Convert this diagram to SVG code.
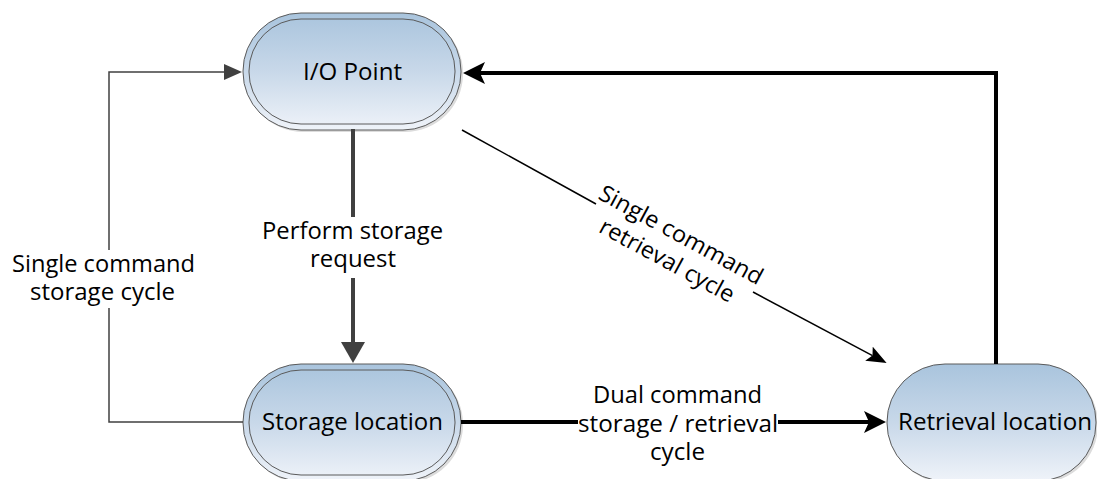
<svg xmlns="http://www.w3.org/2000/svg" width="1097" height="479" viewBox="0 0 1097 479">
<style>
  .lbl{font-family:"Open Sans","Liberation Sans",sans-serif;font-size:23px;fill:#000;text-anchor:middle}
  .node{fill:url(#g);stroke:#5a5a5a;stroke-width:1}
  .inner{fill:none;stroke:#5a5a5a;stroke-width:1}
  .shadow{fill:#dcdcdc}
  .thin{fill:none;stroke:#404040;stroke-width:1.5}
  .gray{fill:none;stroke:#404040;stroke-width:4}
  .thick{fill:none;stroke:#000;stroke-width:4}
  .diag{fill:none;stroke:#000;stroke-width:1.5}
</style>
<defs>
  <linearGradient id="g" x1="0" y1="0" x2="0" y2="1">
    <stop offset="0" stop-color="#a9c4dd"/>
    <stop offset="0.5" stop-color="#c8d8e9"/>
    <stop offset="1" stop-color="#eff3f9"/>
  </linearGradient>
  <marker id="aThick" markerUnits="userSpaceOnUse" markerWidth="22" markerHeight="22" viewBox="0 0 22 22" refX="5" refY="11" orient="auto">
    <path d="M0,0 L22,11 L0,22 L5,11 Z" fill="#000"/>
  </marker>
  <marker id="aGray" markerUnits="userSpaceOnUse" markerWidth="21" markerHeight="24" viewBox="0 0 21 24" refX="0" refY="12" orient="auto">
    <path d="M0,0 L21,12 L0,24 Z" fill="#404040"/>
  </marker>
  <marker id="aThin" markerUnits="userSpaceOnUse" markerWidth="18" markerHeight="16" viewBox="0 0 18 16" refX="0" refY="8" orient="auto">
    <path d="M0,0 L18,8 L0,16 Z" fill="#404040"/>
  </marker>
  <marker id="aDiag" markerUnits="userSpaceOnUse" markerWidth="20" markerHeight="16" viewBox="0 0 20 16" refX="4" refY="8" orient="auto">
    <path d="M0,0 L20,8 L0,16 L4,8 Z" fill="#000"/>
  </marker>
</defs>

<g id="node-io">
  <rect class="shadow" x="245" y="15" width="218" height="117" rx="58" ry="58"/>
  <rect class="node" x="243" y="13" width="218" height="117" rx="58" ry="58"/>
  <rect class="inner" x="249" y="19" width="206" height="105" rx="52" ry="52"/>
  <text class="lbl" x="352.5" y="80" textLength="99" lengthAdjust="spacingAndGlyphs">I/O Point</text>
</g>

<g id="node-storage">
  <rect class="shadow" x="245" y="366" width="218" height="117" rx="58" ry="58"/>
  <rect class="node" x="243" y="364" width="218" height="117" rx="58" ry="58"/>
  <rect class="inner" x="249" y="370" width="206" height="105" rx="52" ry="52"/>
  <text class="lbl" x="352.5" y="430" textLength="181" lengthAdjust="spacingAndGlyphs">Storage location</text>
</g>

<g id="node-retrieval">
  <rect class="shadow" x="889" y="366" width="209" height="117" rx="58" ry="58"/>
  <rect class="node" x="887" y="364" width="209" height="117" rx="58" ry="58"/>
  <text class="lbl" x="995" y="430" textLength="194" lengthAdjust="spacingAndGlyphs">Retrieval location</text>
</g>

<g id="connectors">
  <path class="thin" d="M243,422 H109 V308"/>
  <path class="thin" d="M109,250 V72 H224" marker-end="url(#aThin)"/>
  <text class="lbl" x="103.5" y="272" textLength="183" lengthAdjust="spacingAndGlyphs">Single command</text>
  <text class="lbl" x="102.5" y="300" textLength="145" lengthAdjust="spacingAndGlyphs">storage cycle</text>

  <path class="gray" d="M353,129 V217"/>
  <path class="gray" d="M353,278 V342" marker-end="url(#aGray)"/>
  <text class="lbl" x="352.5" y="239" textLength="181" lengthAdjust="spacingAndGlyphs">Perform storage</text>
  <text class="lbl" x="353" y="267" textLength="86" lengthAdjust="spacingAndGlyphs">request</text>

  <path class="thick" d="M461,422 H578"/>
  <path class="thick" d="M778,422 H869" marker-end="url(#aThick)"/>
  <text class="lbl" x="677.5" y="403" textLength="169" lengthAdjust="spacingAndGlyphs">Dual command</text>
  <text class="lbl" x="678" y="432" textLength="200" lengthAdjust="spacingAndGlyphs">storage / retrieval</text>
  <text class="lbl" x="677.5" y="460" textLength="55" lengthAdjust="spacingAndGlyphs">cycle</text>

  <path class="thick" d="M996,364 V73 H480" marker-end="url(#aThick)"/>

  <path class="diag" d="M462,130 L596,204"/>
  <path class="diag" d="M753,292 L872.5,355.6" marker-end="url(#aDiag)"/>
  <g transform="translate(674,248) rotate(28.5)">
    <text class="lbl" x="0" y="-7" textLength="183" lengthAdjust="spacingAndGlyphs">Single command</text>
    <text class="lbl" x="0" y="22" textLength="150" lengthAdjust="spacingAndGlyphs">retrieval cycle</text>
  </g>
</g>
</svg>
